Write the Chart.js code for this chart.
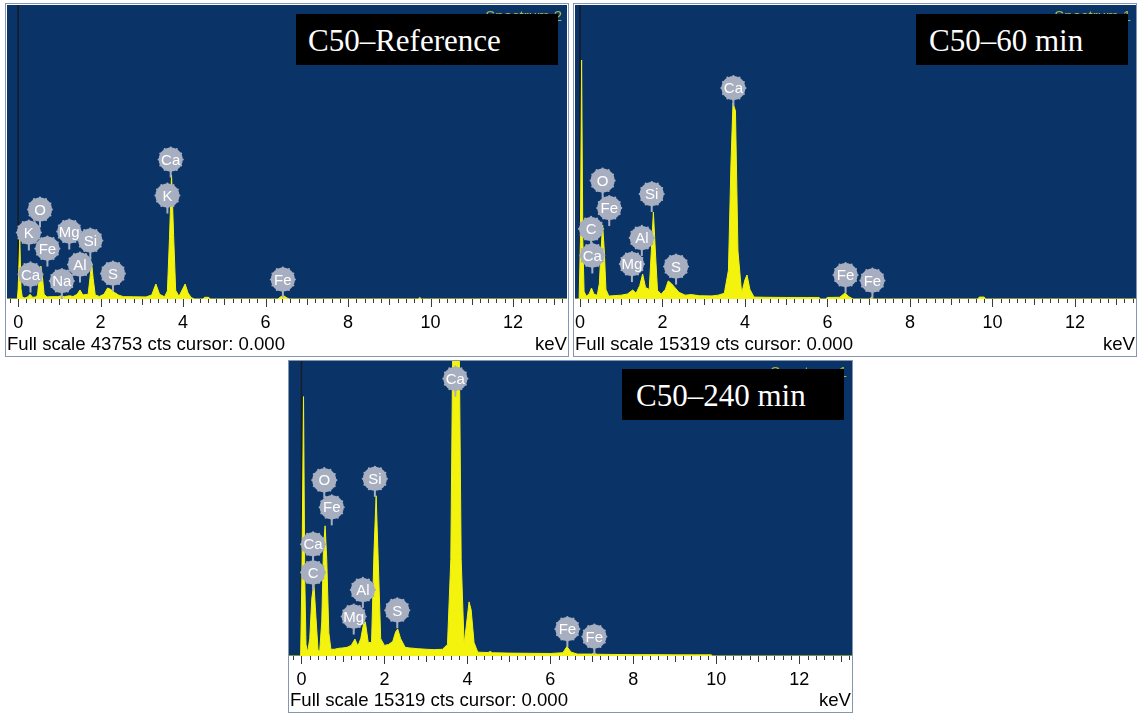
<!DOCTYPE html>
<html>
<head>
<meta charset="utf-8">
<script src="https://cdn.jsdelivr.net/npm/chart.js@4.4.0/dist/chart.umd.min.js"></script>
<style>
  body { margin: 0; width: 1137px; height: 713px; background: #fff; position: relative; overflow: hidden; }
  canvas { position: absolute; }
  .titulo {
    position: absolute; background: #000; color: #fff;
    font-family: "Liberation Serif", "Times New Roman", serif; font-size: 31px;
    height: 51px; line-height: 53px; box-sizing: border-box; white-space: nowrap;
  }
</style>
</head>
<body>
<canvas id="graficaRef" width="564" height="354" style="left:5px;top:3px"></canvas>
<canvas id="grafica60" width="564" height="354" style="left:573px;top:3px"></canvas>
<canvas id="grafica240" width="565" height="353" style="left:288px;top:360px"></canvas>

<div class="titulo" style="left:296px;top:14px;width:262px;padding-left:12px">C50–Reference</div>
<div class="titulo" style="left:916px;top:14px;width:212px;padding-left:13px">C50–60 min</div>
<div class="titulo" style="left:622px;top:369px;width:222px;padding-left:14px">C50–240 min</div>

<script>
// eje x (keV)
const escalaX = [0, 2, 4, 6, 8, 10, 12];

// C50-Reference
const refKeV = [-0.27, -0.02, 0.00, 0.04, 0.07, 0.10, 0.16, 0.23, 0.29, 0.35, 0.43, 0.47, 0.51, 0.55, 0.59, 0.63,
  0.70, 0.80, 0.95, 1.04, 1.12, 1.25, 1.33, 1.43, 1.50, 1.57, 1.68, 1.70, 1.74, 1.78, 1.82, 1.87, 1.97,
  2.08, 2.17, 2.25, 2.33, 2.43, 2.55, 2.80, 3.10, 3.24, 3.34, 3.43, 3.55, 3.62, 3.67, 3.72, 3.77, 3.82, 3.90,
  3.99, 4.05, 4.12, 4.20, 4.28, 4.48, 4.52, 4.62, 4.66, 6.30, 6.36, 6.43, 6.52, 6.58, 9.70, 9.74, 9.78, 13.31];
const refCuentas = [0, 0, 1500, 9080, 1500, 300, 150, 300, 700, 250, 300, 600, 3000, 4900, 3200, 700,
  300, 350, 350, 450, 350, 480, 360, 700, 1340, 600, 700, 800, 3000, 5500, 3000, 600, 380,
  700, 1640, 1400, 1000, 600, 350, 330, 300, 600, 2230, 700, 330, 1200, 9000, 18450, 9500, 1300, 400,
  1500, 2230, 900, 200, 0, 0, 250, 250, 0, 0, 300, 520, 150, 0, 0, 220, 0, 0];
const refEtiquetas = ['Ca', 'K', 'O', 'K', 'Mg', 'Si', 'Fe', 'Al', 'Ca', 'Na', 'S', 'Fe'];
const refEtiquetasKeV = [3.70, 3.62, 0.53, 0.26, 1.24, 1.75, 0.71, 1.50, 0.30, 1.06, 2.30, 6.42];
const refEtiquetasCuentas = [20760, 15400, 13320, 9900, 10040, 8700, 7510, 5130, 3650, 2680, 3790, 2900];

// C50-60 min
const s60KeV = [-0.12, -0.02, 0.01, 0.04, 0.07, 0.10, 0.15, 0.22, 0.28, 0.34, 0.42, 0.47, 0.51, 0.55, 0.59, 0.63,
  0.70, 0.80, 1.00, 1.15, 1.28, 1.36, 1.45, 1.52, 1.59, 1.68, 1.73, 1.78, 1.83, 1.88, 1.97,
  2.07, 2.14, 2.22, 2.30, 2.40, 2.55, 2.70, 2.90, 3.20, 3.35, 3.50, 3.60, 3.66, 3.71, 3.77, 3.83, 3.92,
  4.00, 4.05, 4.12, 4.22, 4.50, 5.00, 5.50, 5.80, 5.82, 5.95, 6.00, 6.30, 6.37, 6.43, 6.52, 6.62,
  7.02, 7.07, 7.12, 9.65, 9.68, 9.80, 9.83, 13.48];
const s60Cuentas = [0, 0, 3000, 12450, 3000, 400, 150, 250, 570, 250, 200, 800, 2500, 3860, 2500, 500,
  150, 170, 200, 260, 470, 300, 700, 1300, 600, 500, 2500, 4530, 2400, 450, 250,
  500, 940, 800, 600, 350, 200, 230, 170, 160, 200, 300, 1500, 7000, 10200, 9800, 2500, 300,
  1000, 1250, 500, 100, 90, 80, 80, 80, 0, 0, 80, 90, 220, 310, 120, 0,
  0, 100, 0, 0, 100, 100, 0, 0];
const s60Etiquetas = ['Ca', 'O', 'Si', 'Fe', 'C', 'Al', 'Ca', 'Mg', 'S', 'Fe', 'Fe'];
const s60EtiquetasKeV = [3.72, 0.55, 1.74, 0.71, 0.27, 1.50, 0.30, 1.26, 2.33, 6.44, 7.09];
const s60EtiquetasCuentas = [10990, 6170, 5470, 4740, 3650, 3180, 2270, 1820, 1690, 1250, 960];

// C50-240 min
const s240KeV = [-0.30, -0.02, 0.01, 0.05, 0.08, 0.11, 0.15, 0.20, 0.25, 0.30, 0.35, 0.40, 0.44, 0.49, 0.53, 0.57,
  0.61, 0.66, 0.71, 0.80, 0.90, 1.00, 1.10, 1.20, 1.29, 1.36, 1.43, 1.50, 1.54, 1.61, 1.69, 1.75, 1.80,
  1.85, 1.91, 2.00, 2.10, 2.20, 2.27, 2.32, 2.39, 2.50, 2.60, 2.80, 3.00, 3.20, 3.40, 3.52, 3.60, 3.65,
  3.80, 3.85, 3.92, 3.97, 4.04, 4.09, 4.16, 4.25, 4.50, 4.55, 4.60, 5.00, 5.50, 6.00, 6.30, 6.40, 6.50,
  6.65, 7.00, 7.06, 7.12, 7.50, 8.00, 8.50, 9.00, 9.50, 9.88, 9.90, 13.27];
const s240Cuentas = [0, 0, 4000, 13470, 4000, 600, 200, 900, 3000, 3750, 2000, 300, 250, 1800, 5500, 6760,
  5000, 1200, 350, 350, 400, 420, 450, 550, 880, 520, 900, 1700, 1770, 700, 700, 5500, 8320,
  5000, 900, 550, 600, 750, 1250, 1400, 900, 450, 420, 380, 350, 330, 350, 600, 5000, 17000,
  17000, 5000, 600, 1500, 2810, 2400, 700, 200, 180, 240, 170, 150, 140, 130, 170, 490, 200,
  100, 100, 150, 90, 80, 70, 70, 60, 60, 60, 0, 0];
const s240Etiquetas = ['Ca', 'O', 'Si', 'Fe', 'Ca', 'C', 'Al', 'Mg', 'S', 'Fe', 'Fe'];
const s240EtiquetasKeV = [3.71, 0.55, 1.77, 0.73, 0.28, 0.28, 1.48, 1.26, 2.31, 6.41, 7.06];
const s240EtiquetasCuentas = [14400, 9130, 9200, 7720, 5800, 4340, 3430, 2050, 2370, 1400, 1010];

const AZUL = '#0a3468';
const AMARILLO = '#f3f30e';
const GRIS = '#a6aec0';
const FUENTE = '"Liberation Sans", Arial, sans-serif';

function dibujarEtiqueta(ctx, x, y, texto) {
    const r = 12;
    ctx.fillStyle = GRIS;
    ctx.fillRect(x - 1, y + r - 1, 2, 7);
    ctx.beginPath();
    ctx.arc(x, y, r, 0, Math.PI * 2);
    ctx.fill();
    for (let i = 0; i < 12; i++) {
        const t = i * Math.PI / 6;
        ctx.beginPath();
        ctx.arc(x + Math.cos(t) * r, y + Math.sin(t) * r, 1.1, 0, Math.PI * 2);
        ctx.fill();
    }
    ctx.fillStyle = '#fff';
    ctx.font = '15px ' + FUENTE;
    ctx.textAlign = 'center';
    ctx.textBaseline = 'middle';
    ctx.fillText(texto, x, y + 1);
}

function crearEspectro(idCanvas, keV, cuentas, etiquetas, etiquetasKeV, etiquetasCuentas, conf) {
    const canvas = document.getElementById(idCanvas);
    if (!canvas) {
        console.warn("No se encontró el canvas:", idCanvas);
        return;
    }

    const plugin = {
        id: 'espectro',
        beforeDraw(chart) {
            const { ctx, chartArea: a, width, height } = chart;
            ctx.save();
            ctx.fillStyle = '#fff';
            ctx.fillRect(0, 0, width, height);
            ctx.fillStyle = AZUL;
            ctx.fillRect(a.left, a.top, a.right - a.left, a.bottom - a.top);
            ctx.fillStyle = '#a9b93a';
            ctx.font = '15px ' + FUENTE;
            ctx.textAlign = 'right';
            ctx.textBaseline = 'top';
            ctx.fillText(conf.espectro, a.right - 5, a.top + 4);
            // cursor en 0 keV
            const x0 = chart.scales.x.getPixelForValue(0);
            ctx.strokeStyle = '#171b24';
            ctx.lineWidth = 1.5;
            ctx.beginPath();
            ctx.moveTo(x0, a.top);
            ctx.lineTo(x0, a.bottom);
            ctx.stroke();
            ctx.restore();
        },
        afterDatasetsDraw(chart) {
            const { ctx } = chart;
            const sx = chart.scales.x, sy = chart.scales.y;
            ctx.save();
            etiquetas.forEach((e, i) => {
                dibujarEtiqueta(ctx, sx.getPixelForValue(etiquetasKeV[i]), sy.getPixelForValue(etiquetasCuentas[i]), e);
            });
            ctx.restore();
        },
        afterDraw(chart) {
            const { ctx, chartArea: a, width, height } = chart;
            const sx = chart.scales.x;
            ctx.save();
            ctx.strokeStyle = '#3a3a3a';
            ctx.lineWidth = 1;
            const desde = Math.ceil(sx.min / 0.2), hasta = Math.floor(sx.max / 0.2);
            for (let i = desde; i <= hasta; i++) {
                const x = Math.round(sx.getPixelForValue(i * 0.2)) + 0.5;
                const largo = i % 10 === 0 ? 8 : (i % 5 === 0 ? 6 : 4);
                ctx.beginPath();
                ctx.moveTo(x, a.bottom);
                ctx.lineTo(x, a.bottom + largo);
                ctx.stroke();
            }
            ctx.fillStyle = '#000';
            ctx.font = '18.6px ' + FUENTE;
            ctx.textBaseline = 'alphabetic';
            ctx.textAlign = 'left';
            ctx.fillText(conf.pie, 2, a.bottom + conf.pieY);
            ctx.textAlign = 'right';
            ctx.fillText('keV', width - 2, a.bottom + conf.pieY);
            ctx.strokeStyle = '#8596b0';
            ctx.strokeRect(0.5, 0.5, width - 1, height - 1);
            ctx.restore();
        }
    };

    new Chart(canvas, {
        type: 'line',
        data: {
            datasets: [{
                data: keV.map((k, i) => ({ x: k, y: cuentas[i] })),
                borderColor: AMARILLO,
                backgroundColor: AMARILLO,
                borderWidth: 1,
                fill: 'origin',
                pointRadius: 0,
                tension: 0
            }]
        },
        options: {
            responsive: false,
            animation: false,
            layout: { padding: conf.padding },
            plugins: { legend: { display: false }, tooltip: { enabled: false } },
            scales: {
                x: {
                    type: 'linear',
                    min: conf.min,
                    max: conf.max,
                    afterBuildTicks: s => { s.ticks = escalaX.map(v => ({ value: v })); },
                    afterFit: s => {
                        s.height = conf.altoEje;
                        s.paddingLeft = 0;
                        s.paddingRight = 0;
                    },
                    grid: { display: false },
                    border: { display: false },
                    ticks: { color: '#000', font: { family: FUENTE, size: 18 }, padding: 5, maxRotation: 0, autoSkip: false }
                },
                y: { display: false, min: 0, max: conf.escala }
            }
        },
        plugins: [plugin]
    });
}

document.addEventListener("DOMContentLoaded", () => {
    crearEspectro("graficaRef", refKeV, refCuentas, refEtiquetas, refEtiquetasKeV, refEtiquetasCuentas, {
        min: -0.27, max: 13.31, escala: 43753, espectro: 'Spectrum 2',
        pie: 'Full scale 43753 cts cursor: 0.000', pieY: 51,
        padding: { left: 2, right: 2, top: 2, bottom: 0 }, altoEje: 58
    });
    crearEspectro("grafica60", s60KeV, s60Cuentas, s60Etiquetas, s60EtiquetasKeV, s60EtiquetasCuentas, {
        min: -0.12, max: 13.48, escala: 15319, espectro: 'Spectrum 1',
        pie: 'Full scale 15319 cts cursor: 0.000', pieY: 51,
        padding: { left: 2, right: 1, top: 2, bottom: 0 }, altoEje: 58
    });
    crearEspectro("grafica240", s240KeV, s240Cuentas, s240Etiquetas, s240EtiquetasKeV, s240EtiquetasCuentas, {
        min: -0.30, max: 13.27, escala: 15319, espectro: 'Spectrum 1',
        pie: 'Full scale 15319 cts cursor: 0.000', pieY: 50,
        padding: { left: 1, right: 1, top: 1, bottom: 0 }, altoEje: 57
    });
});
</script>
</body>
</html>
